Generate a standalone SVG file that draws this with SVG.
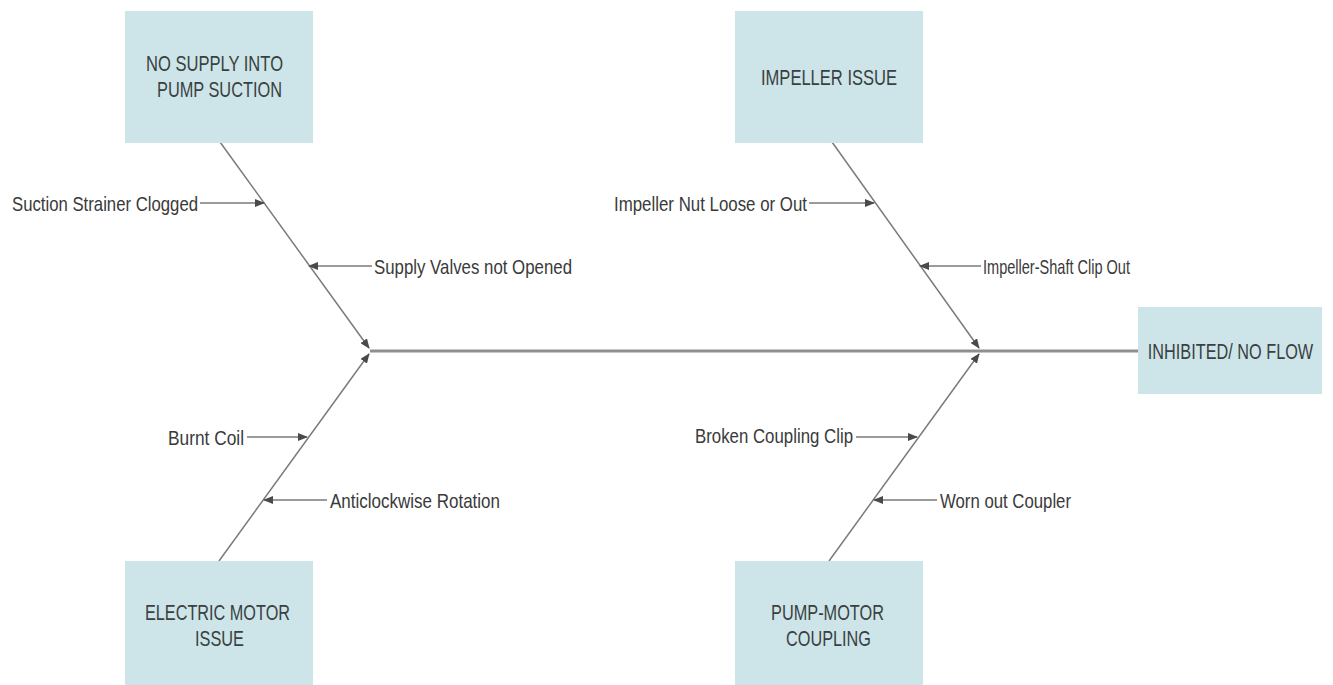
<svg xmlns="http://www.w3.org/2000/svg" width="1333" height="685" viewBox="0 0 1333 685">
<style>
.box{fill:#cde5e8;}
.bt{font-family:"Liberation Sans",Arial,sans-serif;font-size:22px;fill:#3a3f42;}
.lt{font-family:"Liberation Sans",Arial,sans-serif;font-size:21px;fill:#3a3a3a;}
.ln{stroke:#7a7a7a;stroke-width:1.5;fill:none;}
.sp{stroke:#8f8f8f;stroke-width:3;fill:none;}
</style>
<defs>
<marker id="ah" markerUnits="userSpaceOnUse" markerWidth="10" markerHeight="8" refX="9" refY="4" orient="auto">
<path d="M0,0 L10,4 L0,8 Z" fill="#4a4a4a"/>
</marker>
</defs>
<rect width="1333" height="685" fill="#ffffff"/>
<g id="connectors">
<line class="sp" x1="370" y1="351" x2="1138" y2="351"/>
<line class="ln" x1="220" y1="142" x2="369" y2="348" marker-end="url(#ah)"/>
<line class="ln" x1="219" y1="561" x2="369" y2="354" marker-end="url(#ah)"/>
<line class="ln" x1="832" y1="142" x2="979" y2="348" marker-end="url(#ah)"/>
<line class="ln" x1="829" y1="561" x2="979" y2="354" marker-end="url(#ah)"/>
<line class="ln" x1="200" y1="203" x2="264" y2="203" marker-end="url(#ah)"/>
<line class="ln" x1="372" y1="266" x2="309" y2="266" marker-end="url(#ah)"/>
<line class="ln" x1="809" y1="203" x2="874" y2="203" marker-end="url(#ah)"/>
<line class="ln" x1="981" y1="266" x2="920" y2="266" marker-end="url(#ah)"/>
<line class="ln" x1="247" y1="437" x2="307" y2="437" marker-end="url(#ah)"/>
<line class="ln" x1="327" y1="500" x2="264" y2="500" marker-end="url(#ah)"/>
<line class="ln" x1="856" y1="437" x2="917" y2="437" marker-end="url(#ah)"/>
<line class="ln" x1="937" y1="500" x2="874" y2="500" marker-end="url(#ah)"/>
</g>
<g id="labels">
<text class="lt" x="12" y="211" textLength="186" lengthAdjust="spacingAndGlyphs">Suction Strainer Clogged</text>
<text class="lt" x="374" y="274" textLength="198" lengthAdjust="spacingAndGlyphs">Supply Valves not Opened</text>
<text class="lt" x="614" y="211" textLength="193" lengthAdjust="spacingAndGlyphs">Impeller Nut Loose or Out</text>
<text class="lt" x="983" y="274" textLength="147" lengthAdjust="spacingAndGlyphs">Impeller-Shaft Clip Out</text>
<text class="lt" x="168" y="445" textLength="76" lengthAdjust="spacingAndGlyphs">Burnt Coil</text>
<text class="lt" x="330" y="508" textLength="170" lengthAdjust="spacingAndGlyphs">Anticlockwise Rotation</text>
<text class="lt" x="695" y="443" textLength="158" lengthAdjust="spacingAndGlyphs">Broken Coupling Clip</text>
<text class="lt" x="940" y="508" textLength="131" lengthAdjust="spacingAndGlyphs">Worn out Coupler</text>
</g>
<g id="node-no-supply">
<rect class="box" x="125" y="11" width="188" height="132"/>
<text class="bt" x="146" y="71" textLength="137" lengthAdjust="spacingAndGlyphs">NO SUPPLY INTO</text>
<text class="bt" x="157" y="97" textLength="125" lengthAdjust="spacingAndGlyphs">PUMP SUCTION</text>
</g>
<g id="node-impeller">
<rect class="box" x="735" y="11" width="188" height="132"/>
<text class="bt" x="761" y="85" textLength="136" lengthAdjust="spacingAndGlyphs">IMPELLER ISSUE</text>
</g>
<g id="node-inhibited">
<rect class="box" x="1138" y="307" width="184" height="87"/>
<text class="bt" transform="translate(1230.5,359) scale(0.74,1)" text-anchor="middle">INHIBITED/ NO FLOW</text>
</g>
<g id="node-electric">
<rect class="box" x="125" y="561" width="188" height="124"/>
<text class="bt" x="145" y="620" textLength="145" lengthAdjust="spacingAndGlyphs">ELECTRIC MOTOR</text>
<text class="bt" x="195" y="646" textLength="49" lengthAdjust="spacingAndGlyphs">ISSUE</text>
</g>
<g id="node-coupling">
<rect class="box" x="735" y="561" width="188" height="124"/>
<text class="bt" x="771" y="620" textLength="113" lengthAdjust="spacingAndGlyphs">PUMP-MOTOR</text>
<text class="bt" x="786" y="646" textLength="85" lengthAdjust="spacingAndGlyphs">COUPLING</text>
</g>
</svg>
